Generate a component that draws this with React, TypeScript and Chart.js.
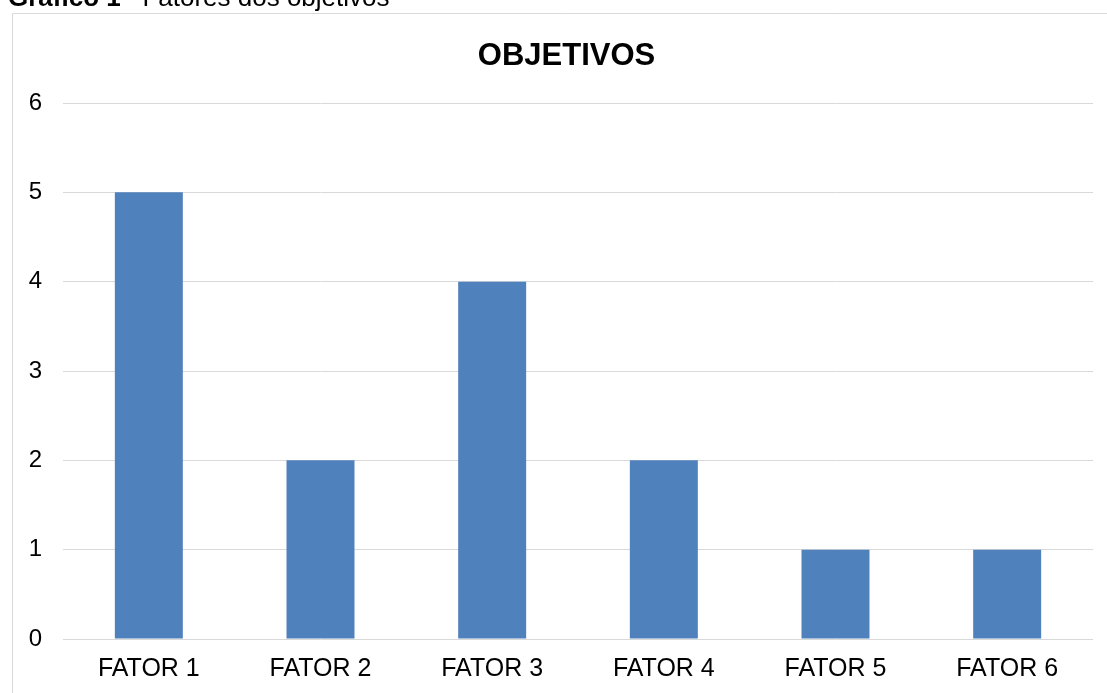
import React, { useEffect, useRef } from "react";
import { Chart, registerables } from "chart.js";

Chart.register(...registerables);

const categories = ["FATOR 1", "FATOR 2", "FATOR 3", "FATOR 4", "FATOR 5", "FATOR 6"];
const values = [5, 2, 4, 2, 1, 1];
const chartTitle = "OBJETIVOS";
const captionBold = "Gráfico 1";
const captionRest = "– Fatores dos objetivos";
const yMin = 0;
const yMax = 6;
const yStep = 1;

const FONT = '"Liberation Sans", Arial, sans-serif';

export default function App() {
  const ref = useRef<HTMLCanvasElement | null>(null);

  useEffect(() => {
    if (!ref.current) return;
    const decor = {
      id: "decor",
      afterDraw(chart: any) {
        const ctx = chart.ctx as CanvasRenderingContext2D;
        ctx.save();
        // frame
        ctx.strokeStyle = "#d9d9d9";
        ctx.lineWidth = 1;
        ctx.beginPath();
        ctx.moveTo(12.5, 720);
        ctx.lineTo(12.5, 13.5);
        ctx.lineTo(1200, 13.5);
        ctx.stroke();
        // caption
        ctx.fillStyle = "#000";
        ctx.textBaseline = "alphabetic";
        ctx.textAlign = "left";
        ctx.font = `bold 26px ${FONT}`;
        ctx.fillText(captionBold, 8, 6);
        const w = ctx.measureText(captionBold).width;
        ctx.font = `26px ${FONT}`;
        ctx.fillText(captionRest, 8 + w, 6);
        // title
        ctx.font = `bold 31px ${FONT}`;
        ctx.textAlign = "center";
        ctx.fillText(chartTitle, 566.5, 64.5);
        ctx.restore();
      },
    };
    const chart = new Chart(ref.current, {
      type: "bar",
      data: {
        labels: categories,
        datasets: [
          {
            data: values,
            backgroundColor: "#4F81BD",
            borderWidth: 0,
            categoryPercentage: 1,
            barPercentage: 0.396,
          },
        ],
      },
      options: {
        animation: false,
        responsive: false,
        devicePixelRatio: 1,
        layout: { padding: { top: 103, right: 14, bottom: 0, left: 0 } },
        plugins: {
          legend: { display: false },
          title: { display: false },
          tooltip: { enabled: false },
        },
        scales: {
          x: {
            grid: { display: false, drawTicks: false },
            border: { display: false },
            ticks: {
              color: "#000",
              font: { family: FONT, size: 25 },
              padding: 15,
              maxRotation: 0,
              autoSkip: false,
            },
            afterFit: (s: any) => {
              s.height = 54;
            },
          },
          y: {
            min: yMin,
            max: yMax,
            grid: { color: "#d9d9d9", lineWidth: 1, drawTicks: false },
            border: { display: false },
            ticks: {
              stepSize: yStep,
              color: "#000",
              font: { family: FONT, size: 24 },
              padding: 21,
            },
            afterFit: (s: any) => {
              s.width = 63;
            },
          },
        },
      },
      plugins: [decor],
    });
    return () => chart.destroy();
  }, []);

  return (
    <div style={{ position: "fixed", left: 0, top: 0, width: 1107, height: 693, background: "#fff", overflow: "hidden" }}>
      <canvas ref={ref} width={1107} height={693} style={{ display: "block" }} />
    </div>
  );
}
